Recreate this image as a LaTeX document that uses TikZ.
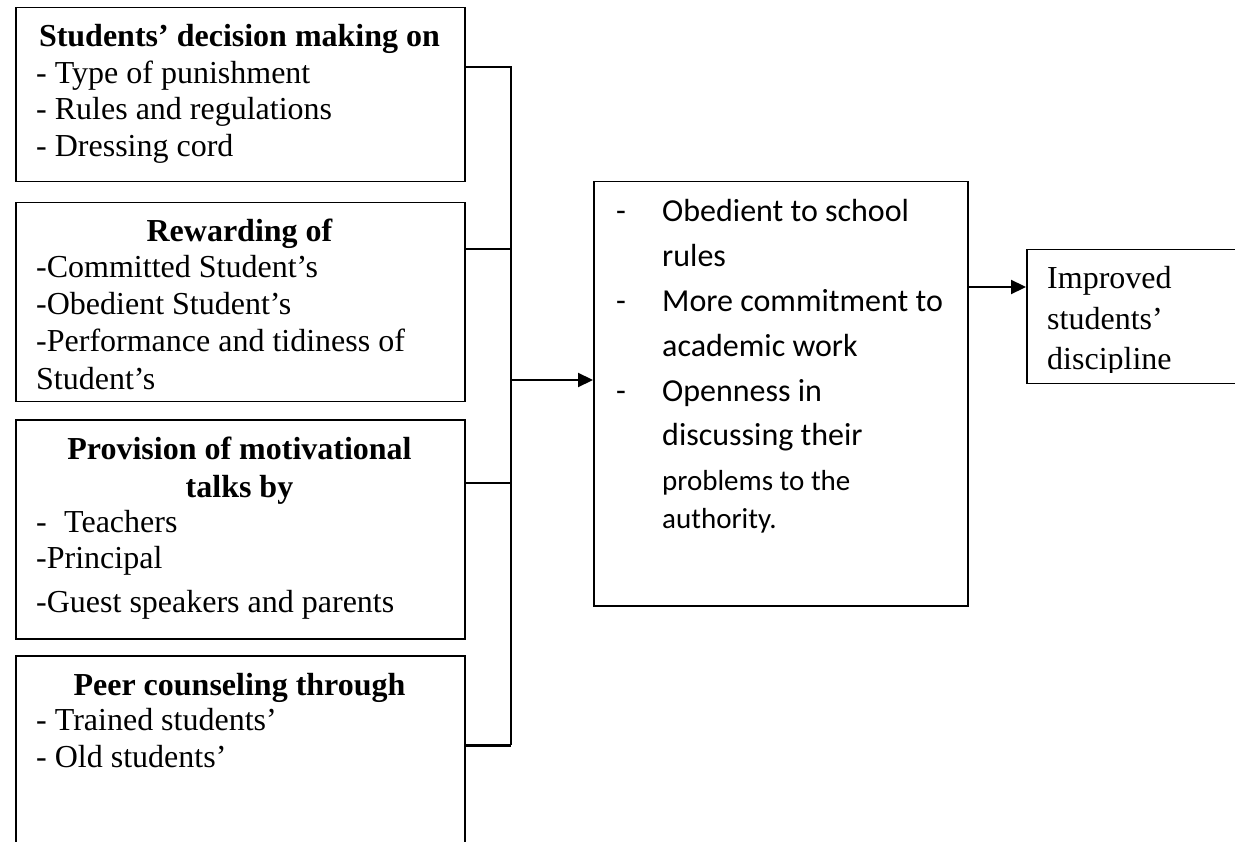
\documentclass[tikz,border=0pt]{standalone}
\usepackage{fontspec}
\setmainfont{Liberation Serif}
\newfontfamily\calibrifont{Carlito}
\usetikzlibrary{arrows.meta}
\begin{document}
\begin{tikzpicture}[x=1pt,y=-1pt,
 box/.style={draw, line width=1.5pt, rectangle, inner sep=0pt, anchor=north west},
 txt/.style={anchor=base west, inner sep=0pt, font=\fontsize{32}{37}\selectfont},
 ttl/.style={anchor=base, inner sep=0pt, font=\fontsize{32}{37}\selectfont\bfseries},
 ctxt/.style={anchor=base west, inner sep=0pt, font=\fontsize{32}{45}\selectfont\calibrifont},
 csmall/.style={anchor=base west, inner sep=0pt, font=\fontsize{29}{40}\selectfont\calibrifont},
 conn/.style={line width=2.2pt},
 arr/.style={line width=2.2pt, -{Triangle[length=15pt,width=14pt]}}]
\useasboundingbox (0,0) rectangle (1235,842);
\clip (0,0) rectangle (1235,842);
% boxes
\node[box, minimum width=449pt, minimum height=174pt] (b1) at (15,7) {};
\node[box, minimum width=449pt, minimum height=199pt] (b2) at (15,202) {};
\node[box, minimum width=449pt, minimum height=219pt] (b3) at (15,419) {};
\node[box, minimum width=449pt, minimum height=215pt] (b4) at (15,655) {};
\node[box, minimum width=374pt, minimum height=424pt] (mid) at (593,181) {};
\node[box, minimum width=234pt, minimum height=134pt] (res) at (1026,249) {};
% box 1 text
\node[ttl] (t11) at (239.5,47) {Students’ decision making on};
\node[txt] (t12) at (36,84) {- Type of punishment};
\node[txt] (t13) at (36,120) {- Rules and regulations};
\node[txt] (t14) at (36,157) {- Dressing cord};
% box 2 text
\node[ttl] (t21) at (239.5,242) {Rewarding of};
\node[txt] (t22) at (36,278) {-Committed Student’s};
\node[txt] (t23) at (36,315) {-Obedient Student’s};
\node[txt] (t24) at (36,352) {-Performance and tidiness of};
\node[txt] (t25) at (36,389) {Student’s};
% box 3 text
\node[ttl] (t31) at (239.5,459) {Provision of motivational};
\node[ttl] (t32) at (239.5,497) {talks by};
\node[txt] (t33) at (36,532) {\makebox[28pt][l]{-}Teachers};
\node[txt] (t34) at (36,568) {-Principal};
\node[txt] (t35) at (36,612) {-Guest speakers and parents};
% box 4 text
\node[ttl] (t41) at (239.5,695) {Peer counseling through};
\node[txt] (t42) at (36,730) {- Trained students’};
\node[txt] (t43) at (36,767) {- Old students’};
% middle box text
\node[ctxt] (d1) at (616,222) {-};
\node[ctxt] (m1) at (662,222) {Obedient to school};
\node[ctxt] (m2) at (662,267) {rules};
\node[ctxt] (d2) at (616,312) {-};
\node[ctxt] (m3) at (662,312) {More commitment to};
\node[ctxt] (m4) at (662,357) {academic work};
\node[ctxt] (d3) at (616,402) {-};
\node[ctxt] (m5) at (662,402) {Openness in};
\node[ctxt] (m6) at (662,445) {discussing their};
\node[csmall] (m7) at (662,490) {problems to the};
\node[csmall] (m8) at (662,528) {authority.};
% result text
\node[txt] (r1) at (1047,289) {Improved};
\node[txt] (r2) at (1047,330) {students’};
\begin{scope}
\clip (1026,249) rectangle (1235,373);
\node[txt] (r3) at (1047,370) {discipline};
\end{scope}
% connectors
\coordinate (j1) at (511,67);
\coordinate (j2) at (511,249);
\coordinate (j3) at (511,483);
\coordinate (j4) at (511,745);
\coordinate (ja) at (511,380);
\coordinate (jb) at (966,287);
\draw[conn] (b1.east |- j1) -- (j1) -- (j4);
\draw[conn] (b2.east |- j2) -- (j2);
\draw[conn] (b3.east |- j3) -- (j3);
\draw[conn, line width=3pt] (b4.east |- j4) -- (j4);
\draw[arr] (ja) -- (mid.west |- ja);
\draw[arr] (mid.east |- jb) -- (res.west |- jb);
\end{tikzpicture}
\end{document}
